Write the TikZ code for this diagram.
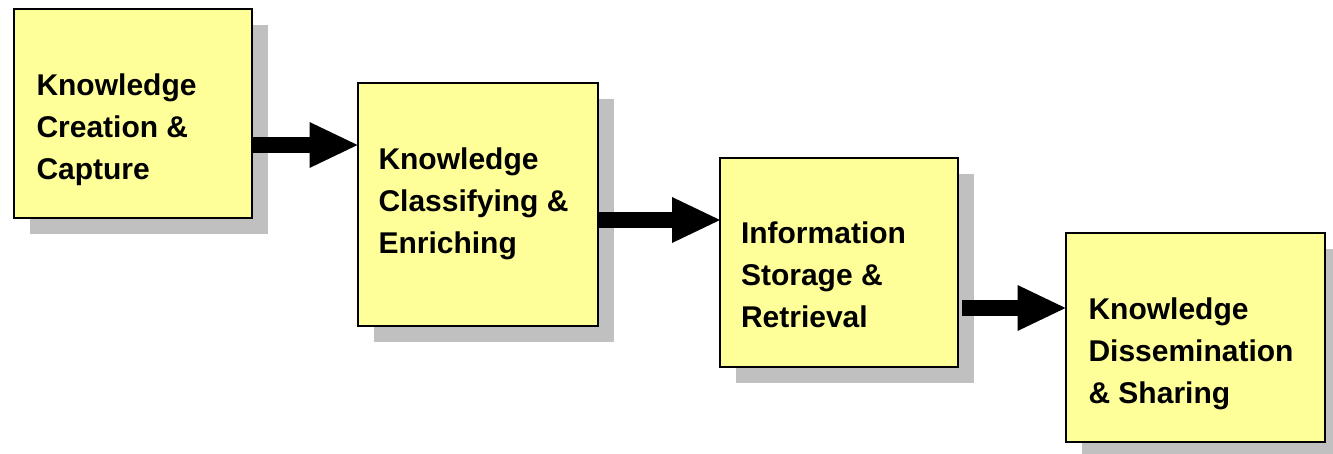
\documentclass[tikz,border=0pt]{standalone}
\usepackage{fontspec}
\setmainfont{Liberation Sans}
\usepackage{xcolor}
\usetikzlibrary{arrows.meta,shadows}

\definecolor{stageyellow}{HTML}{FFFF99}
\definecolor{shadowgray}{HTML}{C0C0C0}

\begin{document}
\begin{tikzpicture}[x=1pt, y=-1pt,
      every node/.style = {inner sep=0pt, outer sep=0pt},
      stage/.style = {draw, rectangle, line width=2pt, fill=stageyellow,
            minimum width=#1, minimum height=209pt,
            drop shadow={shadow xshift=16pt, shadow yshift=-16pt,
                  fill=shadowgray, opacity=1}},
      stagetext/.style = {anchor=north west, align=left,
            font=\fontsize{30}{42}\selectfont\bfseries},
      flow/.style = {line width=16pt,
            -{Triangle[length=48pt, width=46pt, line width=0pt]}}
      ]
      \useasboundingbox (0,0) rectangle (1333,453);
      \node[stage=238pt] (cap) at (132.5,113) {};
      \node[stage=240pt, minimum height=243pt] (cls) at (477.5,204) {};
      \node[stage=238pt] (sto) at (839,262.5) {};
      \node[stage=259pt] (sha) at (1195,337) {};
      \node[stagetext] at ([xshift=23pt, yshift=-65pt]cap.north west) {Knowledge\\Creation \&\\Capture};
      \node[stagetext] at ([xshift=21pt, yshift=-65pt]cls.north west) {Knowledge\\Classifying \&\\Enriching};
      \node[stagetext] at ([xshift=21pt, yshift=-64pt]sto.north west) {Information\\Storage \&\\Retrieval};
      \node[stagetext] at ([xshift=23pt, yshift=-65pt]sha.north west) {Knowledge\\Dissemination\\\& Sharing};
      \draw[flow] ([yshift=-32pt]cap.east) -- ([yshift=-32pt]cap.east -| cls.west);
      \draw[flow] ([yshift=-16pt]cls.east) -- ([yshift=-16pt]cls.east -| sto.west);
      \draw[flow] ([xshift=4pt, yshift=-45.5pt]sto.east) -- ([yshift=-45.5pt]sto.east -| sha.west);
\end{tikzpicture}
\end{document}
